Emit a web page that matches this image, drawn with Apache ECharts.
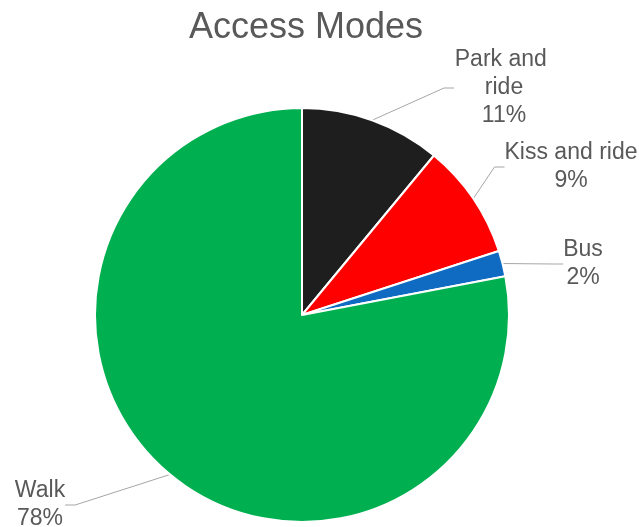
<!DOCTYPE html>
<html>
<head>
  <meta charset="utf-8">
  <title>Access Modes</title>
  <script src="https://cdn.jsdelivr.net/npm/echarts@6/dist/echarts.min.js"></script>
  <style>
    html, body { margin: 0; padding: 0; background: #fff; }
    #chart { width: 639px; height: 527px; }
  </style>
</head>
<body>
  <div id="chart"></div>
<script>
  // data
  const modes = ['Park and ride', 'Kiss and ride', 'Bus', 'Walk'];
  const shares = [11, 9, 2, 78];
  const colors = ['#1e1e1e', '#ff0000', '#0f6bc1', '#00b050'];

  // where each label block sits (center point, px)
  const labelSpots = [[504, 88], [571, 167], [583, 264], [40, 505]];

  const chart = echarts.init(document.getElementById('chart'));

  const items = modes.map(function (name, i) {
    const item = { name: name, value: shares[i], itemStyle: { color: colors[i] } };
    if (name === 'Park and ride') {
      item.label = { width: 100, overflow: 'break' };
    }
    return item;
  });

  chart.setOption({
    animation: false,
    title: {
      text: 'Access Modes',
      left: 184,
      top: 5,
      textStyle: {
        fontFamily: 'Liberation Sans',
        fontSize: 36,
        fontWeight: 'normal',
        color: '#595959'
      }
    },
    series: [{
      type: 'pie',
      center: [302, 315],
      radius: 207,
      startAngle: 90,
      clockwise: true,
      data: items,
      itemStyle: { borderColor: '#ffffff', borderWidth: 2 },
      label: {
        show: true,
        position: 'outside',
        formatter: '{b}\n{d}%',
        fontFamily: 'Liberation Sans',
        fontSize: 23,
        lineHeight: 28,
        color: '#595959',
        align: 'center',
        overflow: 'none'
      },
      labelLine: {
        show: true,
        length: 10,
        length2: 10,
        lineStyle: { color: '#a6a6a6', width: 1 }
      },
      labelLayout: function (params) {
        const p = labelSpots[params.dataIndex];
        return { x: p[0], y: p[1], align: 'center', verticalAlign: 'middle' };
      },
      emphasis: { disabled: true }
    }]
  });
</script>
</body>
</html>
